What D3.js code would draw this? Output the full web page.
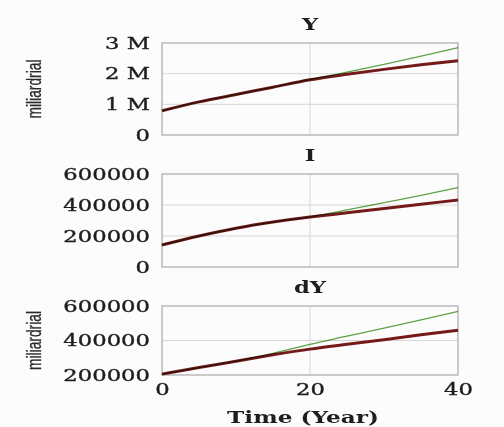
<!DOCTYPE html>
<html>
<head>
<meta charset="utf-8">
<script src="https://cdn.jsdelivr.net/npm/d3@7"></script>
<style>
  body { margin: 0; background: #fcfcfc; }
  svg { display: block; }
</style>
</head>
<body>
<script>
// time axis, years
const years = [0, 5, 10, 15, 20, 25, 30, 35, 40];

// Y (output)
const yBase   = [790000, 1080000, 1320000, 1560000, 1800000, 1980000, 2140000, 2290000, 2420000];
const yAlt    = [790000, 1080000, 1320000, 1560000, 1810000, 2050000, 2300000, 2570000, 2850000];
// I (investment)
const iBase   = [142000, 200000, 250000, 290000, 322000, 350000, 378000, 405000, 432000];
const iAlt    = [142000, 200000, 250000, 290000, 324000, 368000, 415000, 462000, 512000];
// dY
const dyBase  = [205000, 243000, 280000, 317000, 350000, 378000, 405000, 433000, 460000];
const dyAlt   = [205000, 243000, 280000, 326000, 378000, 425000, 472000, 520000, 569000];

const yTicks  = [0, 1000000, 2000000, 3000000];
const iTicks  = [0, 200000, 400000, 600000];
const dyTicks = [200000, 400000, 600000];
const xTicks  = [0, 20, 40];

const width = 504, height = 427;
const stretch = 1.42;   // the source image text is wide

const svg = d3.select('body').append('svg')
  .attr('width', width)
  .attr('height', height);

const x = d3.scaleLinear().domain([0, 40]).range([162, 458]);

const panels = [
  {title: 'Y',  top: 43,  bottom: 135, domain: [0, 3000000], ticks: yTicks, base: yBase, alt: yAlt,
   fmt: d => d === 0 ? '0' : (d / 1e6) + ' M', unit: true},
  {title: 'I',  top: 174, bottom: 267, domain: [0, 600000], ticks: iTicks, base: iBase, alt: iAlt,
   fmt: d => String(d), unit: false},
  {title: 'dY', top: 306, bottom: 375, domain: [200000, 600000], ticks: dyTicks, base: dyBase, alt: dyAlt,
   fmt: d => String(d), unit: true, xaxis: true}
];

function serif(sel, size, bold) {
  sel.attr('font-family', 'DejaVu Serif')
    .attr('font-size', size)
    .attr('font-weight', bold ? 'bold' : 'normal')
    .attr('fill', '#1e1e1e')
    .attr('stroke', '#1e1e1e')
    .attr('stroke-width', bold ? 0 : 0.35);
}

panels.forEach(function(p){
  const y = d3.scaleLinear().domain(p.domain).range([p.bottom, p.top]);
  const g = svg.append('g');

  // grid
  g.selectAll('line.hgrid')
    .data(p.ticks.filter(t => t !== p.domain[0] && t !== p.domain[1]))
    .join('line')
    .attr('x1', x(0)).attr('x2', x(40))
    .attr('y1', d => y(d)).attr('y2', d => y(d))
    .attr('stroke', '#d6d6d6');
  g.append('line')
    .attr('x1', x(20)).attr('x2', x(20))
    .attr('y1', p.top).attr('y2', p.bottom)
    .attr('stroke', '#d6d6d6');

  // frame
  g.append('rect')
    .attr('x', x(0)).attr('y', p.top)
    .attr('width', x(40) - x(0)).attr('height', p.bottom - p.top)
    .attr('fill', 'none')
    .attr('stroke', '#b9b9b9')
    .attr('stroke-width', 1.5);

  // y axis
  const yAxis = d3.axisLeft(y).tickValues(p.ticks).tickFormat(p.fmt).tickSize(0).tickPadding(0);
  const ax = g.append('g')
    .attr('transform', `translate(${x(0) - 12},0)`)
    .call(yAxis);
  ax.select('.domain').remove();
  ax.selectAll('text')
    .attr('x', 0)
    .attr('transform', `scale(${stretch},1)`)
    .call(serif, 16, false);

  // title
  g.append('text')
    .attr('transform', `translate(${x(20)},${p.top - 13}) scale(${stretch},1)`)
    .attr('text-anchor', 'middle')
    .call(serif, 16, true)
    .text(p.title);

  // unit label
  if (p.unit) {
    g.append('text')
      .attr('transform', `translate(41,${(p.top + p.bottom) / 2}) rotate(-90)`)
      .attr('text-anchor', 'middle')
      .attr('font-family', 'Liberation Sans')
      .attr('font-size', 21)
      .attr('textLength', 59)
      .attr('lengthAdjust', 'spacingAndGlyphs')
      .attr('fill', '#2a2a2a')
      .attr('stroke', '#2a2a2a')
      .attr('stroke-width', 0.3)
      .text('miliardrial');
  }

  const line = d3.line()
    .x((d, i) => x(years[i]))
    .y(d => y(d))
    .curve(d3.curveMonotoneX);

  g.append('path')
    .datum(p.base)
    .attr('d', line)
    .attr('fill', 'none')
    .attr('stroke', '#741a1a')
    .attr('stroke-width', 3);
  g.append('path')
    .datum(p.alt)
    .attr('d', line)
    .attr('fill', 'none')
    .attr('stroke', '#5fa548')
    .attr('stroke-width', 1.3)
    .style('mix-blend-mode', 'multiply');

  if (p.xaxis) {
    const xAxis = d3.axisBottom(x).tickValues(xTicks).tickSize(0).tickPadding(0);
    const bx = g.append('g')
      .attr('transform', `translate(0,${p.bottom + 20})`)
      .call(xAxis);
    bx.select('.domain').remove();
    bx.selectAll('text')
      .attr('y', 0)
      .attr('dy', 0)
      .attr('transform', `scale(${stretch},1)`)
      .call(serif, 16, false);
    g.append('text')
      .attr('transform', `translate(${x(20) - 7},${p.bottom + 48}) scale(1.45,1)`)
      .attr('text-anchor', 'middle')
      .call(serif, 16, true)
      .text('Time (Year)');
  }
});
</script>
</body>
</html>
